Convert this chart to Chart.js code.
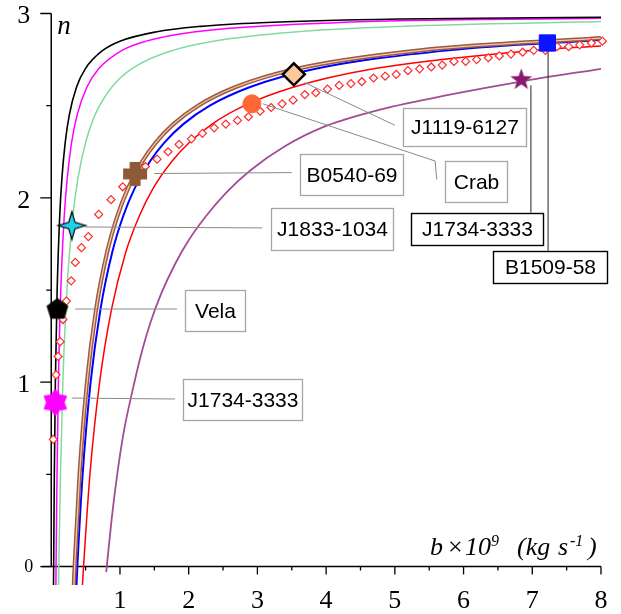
<!DOCTYPE html>
<html>
<head>
<meta charset="utf-8" />
<title>n versus b</title>
<script src="https://cdn.jsdelivr.net/npm/chart.js"></script>
<style>
  body { margin: 0; background: #fff; }
  canvas { display: block; }
</style>
</head>
<body>
<canvas id="myChart" width="621" height="614"></canvas>
<script>
// b in 10^9 kg/s, n = braking index
const blackB = [0.033, 0.035, 0.045, 0.06, 0.086, 0.123, 0.154, 0.203, 0.263, 0.367, 0.495, 0.75, 1.0, 1.52, 2.17, 3.05, 5.1, 8];
const blackN = [-0.1, 0, 0.5, 1.0, 1.5, 1.9, 2.1, 2.3, 2.45, 2.6, 2.7, 2.8, 2.85, 2.9, 2.93, 2.95, 2.97, 2.98];

const magentaB = [0.068, 0.07, 0.084, 0.104, 0.139, 0.189, 0.231, 0.296, 0.377, 0.518, 0.69, 1.03, 1.38, 2.07, 4.13, 8];
const magentaN = [-0.1, 0, 0.5, 1.0, 1.5, 1.9, 2.1, 2.3, 2.45, 2.6, 2.7, 2.8, 2.85, 2.9, 2.95, 2.974];

const greenB = [0.106, 0.11, 0.134, 0.169, 0.228, 0.314, 0.386, 0.5, 0.637, 0.88, 1.17, 1.77, 2.36, 3.54, 5.06, 8];
const greenN = [-0.1, 0, 0.5, 1.0, 1.5, 1.9, 2.1, 2.3, 2.45, 2.6, 2.7, 2.8, 2.85, 2.9, 2.93, 2.956];

const brownB = [0.329, 0.34, 0.412, 0.52, 0.655, 0.81, 0.961, 1.116, 1.329, 1.521, 1.778, 2.137, 2.676, 3.574, 5.371, 8];
const brownN = [-0.1, 0, 0.5, 1.0, 1.4, 1.7, 1.9, 2.05, 2.2, 2.3, 2.4, 2.5, 2.6, 2.7, 2.8, 2.866];

const blueB = [0.368, 0.38, 0.457, 0.573, 0.718, 0.884, 1.046, 1.212, 1.44, 1.646, 1.922, 2.307, 2.885, 3.848, 5.775, 8];
const blueN = [-0.1, 0, 0.5, 1.0, 1.4, 1.7, 1.9, 2.05, 2.2, 2.3, 2.4, 2.5, 2.6, 2.7, 2.8, 2.856];

const redB = [0.454, 0.47, 0.563, 0.704, 0.88, 1.08, 1.28, 1.48, 1.76, 2.01, 2.34, 2.81, 3.52, 4.69, 7.03, 8];
const redN = [-0.1, 0, 0.5, 1.0, 1.4, 1.7, 1.9, 2.05, 2.2, 2.3, 2.4, 2.5, 2.6, 2.7, 2.8, 2.824];

const purpleB = [0.80, 0.88, 0.96, 1.06, 1.18, 1.30, 1.44, 1.60, 1.80, 2.0, 2.25, 2.55, 2.9, 3.4, 4.0, 4.8, 5.8, 6.9, 8];
const purpleN = [-0.03, 0.26, 0.5, 0.74, 0.95, 1.14, 1.32, 1.48, 1.64, 1.77, 1.90, 2.03, 2.15, 2.28, 2.39, 2.48, 2.56, 2.635, 2.70];

const dotB = [0.03, 0.05, 0.07, 0.10, 0.13, 0.17, 0.22, 0.29, 0.35, 0.44, 0.54, 0.69, 0.87, 1.04, 1.21, 1.37, 1.54, 1.70, 1.86, 2.04,
              2.20, 2.37, 2.54, 2.71, 2.87, 3.04, 3.20, 3.36, 3.52, 3.69, 3.85, 4.02, 4.19, 4.36, 4.52, 4.69, 4.86, 5.02, 5.19, 5.36,
              5.53, 5.69, 5.86, 6.03, 6.19, 6.36, 6.52, 6.69, 6.86, 7.02, 7.19, 7.36, 7.53, 7.69, 7.86, 8.02];
const dotN = [0.69, 0.89, 1.04, 1.14, 1.22, 1.34, 1.44, 1.55, 1.65, 1.73, 1.79, 1.91, 1.99, 2.06, 2.12, 2.17, 2.21, 2.25, 2.29, 2.32,
              2.35, 2.38, 2.40, 2.42, 2.44, 2.47, 2.49, 2.51, 2.53, 2.56, 2.57, 2.59, 2.61, 2.62, 2.63, 2.65, 2.66, 2.67, 2.69, 2.70,
              2.71, 2.72, 2.74, 2.74, 2.75, 2.76, 2.77, 2.78, 2.79, 2.80, 2.80, 2.82, 2.82, 2.83, 2.84, 2.85];

// pulsars
const pulsarNames = ['Vela', 'J1734-3333', 'J1833-1034', 'B0540-69', 'Crab', 'J1119-6127', 'B1509-58', 'J1734-3333'];
const pulsarB = [0.09, 0.06, 0.30, 1.22, 2.92, 3.53, 7.22, 6.84];
const pulsarN = [1.40, 0.89, 1.85, 2.13, 2.51, 2.67, 2.84, 2.64];

const xTicks = [1, 2, 3, 4, 5, 6, 7, 8];
const xMinor = [0.5, 1.5, 2.5, 3.5, 4.5, 5.5, 6.5, 7.5];
const yTicks = [0, 1, 2, 3];
const yMinor = [0.5, 1.5, 2.5];

// marker pictures
function pic(w, h, draw) {
  const c = document.createElement('canvas');
  c.width = w; c.height = h;
  const g = c.getContext('2d');
  g.translate(w / 2, h / 2);
  draw(g);
  return c;
}
function starPath(g, k, outer, inner, rot) {
  g.beginPath();
  for (let i = 0; i < k * 2; i++) {
    const r = i % 2 ? inner : outer;
    const a = rot + i * Math.PI / k;
    g.lineTo(r * Math.cos(a), r * Math.sin(a));
  }
  g.closePath();
}
const pentagon = pic(26, 26, g => {
  g.beginPath();
  for (let i = 0; i < 5; i++) {
    const a = -Math.PI / 2 + i * 2 * Math.PI / 5;
    g.lineTo(11.5 * Math.cos(a), 11.5 * Math.sin(a) + 1);
  }
  g.closePath();
  g.fillStyle = '#000';
  g.fill();
});
const sixStar = pic(28, 28, g => {
  starPath(g, 6, 12.5, 8.5, -Math.PI / 2);
  g.fillStyle = '#ff00ff';
  g.lineJoin = 'round';
  g.strokeStyle = '#ff00ff';
  g.lineWidth = 1.5;
  g.fill();
  g.stroke();
});
const fourStar = pic(32, 32, g => {
  starPath(g, 4, 14, 4.5, 0);
  g.fillStyle = '#22d2e8';
  g.fill();
  g.strokeStyle = '#000';
  g.lineWidth = 1.2;
  g.stroke();
});
const plus = pic(28, 28, g => {
  g.fillStyle = '#8d5a35';
  g.fillRect(-12, -5.5, 24, 11);
  g.fillRect(-5.5, -12, 11, 24);
});
const fiveStar = pic(26, 26, g => {
  starPath(g, 5, 11.5, 4.6, -Math.PI / 2);
  g.fillStyle = '#8a1a6c';
  g.fill();
});

const pulsarLook = [
  { pointStyle: pentagon, pointRadius: 11 },
  { pointStyle: sixStar, pointRadius: 11 },
  { pointStyle: fourStar, pointRadius: 12 },
  { pointStyle: plus, pointRadius: 12 },
  { pointStyle: 'circle', pointRadius: 9, pointBackgroundColor: '#ff6633', pointBorderColor: '#ff6633', pointBorderWidth: 1 },
  { pointStyle: 'rectRot', pointRadius: 11, pointBackgroundColor: '#fbc99c', pointBorderColor: '#000', pointBorderWidth: 2.5 },
  { pointStyle: 'rect', pointRadius: 11.5, pointBackgroundColor: '#0a14ff', pointBorderColor: '#0a14ff', pointBorderWidth: 1 },
  { pointStyle: fiveStar, pointRadius: 11 }
];

// callout boxes, in data units: box = [bLeft, bRight, nTop, nBottom]
const callouts = [
  { text: 'J1119-6127', box: [5.12, 6.91, 2.49, 2.28], path: [[3.69, 2.625], [5.00, 2.394]], dark: false },
  { text: 'Crab', box: [5.73, 6.63, 2.20, 1.98], path: [[3.08, 2.51], [5.585, 2.20], [5.61, 2.10]], dark: false },
  { text: 'J1734-3333', box: [5.24, 7.16, 1.92, 1.745], path: [[6.98, 2.61], [6.98, 1.92]], dark: true },
  { text: 'B1509-58', box: [6.43, 8.09, 1.713, 1.536], path: [[7.23, 2.79], [7.23, 1.713]], dark: true },
  { text: 'B0540-69', box: [3.62, 5.12, 2.24, 2.013], path: [[1.50, 2.132], [3.50, 2.137]], dark: false },
  { text: 'J1833-1034', box: [3.20, 4.97, 1.944, 1.718], path: [[0.49, 1.842], [3.07, 1.837]], dark: false },
  { text: 'Vela', box: [1.95, 2.82, 1.50, 1.28], path: [[0.35, 1.397], [1.83, 1.397]], dark: false },
  { text: 'J1734-3333', box: [1.92, 3.65, 1.016, 0.796], path: [[0.30, 0.914], [1.80, 0.909]], dark: false }
];

function pts(bs, ns) {
  return bs.map((b, i) => ({ x: b, y: ns[i] }));
}
function curve(bs, ns, color, width, order) {
  return {
    data: pts(bs, ns),
    showLine: true,
    borderColor: color,
    borderWidth: width,
    pointRadius: 0,
    cubicInterpolationMode: 'monotone',
    order: order
  };
}

const datasets = [];
pulsarNames.forEach((name, i) => {
  datasets.push(Object.assign({ label: name, data: [{ x: pulsarB[i], y: pulsarN[i] }], clip: false, order: 0 }, pulsarLook[i]));
});
datasets.push({
  label: 'dots',
  data: pts(dotB, dotN),
  pointStyle: 'rectRot',
  pointRadius: 4,
  pointBorderWidth: 1.2,
  pointBorderColor: '#ff2a2a',
  pointBackgroundColor: '#fff',
  clip: false,
  order: 1
});
datasets.push(curve(brownB, brownN, '#f3c6a4', 1.3, 2));
datasets.push(curve(brownB, brownN, '#9a5a44', 4.2, 3));
datasets.push(curve(blueB, blueN, '#0000ff', 2, 4));
datasets.push(curve(redB, redN, '#ff0000', 1.5, 5));
datasets.push(curve(blackB, blackN, '#000000', 1.6, 6));
datasets.push(curve(magentaB, magentaN, '#ff00ff', 1.5, 7));
datasets.push(curve(greenB, greenN, '#80dc9e', 1.5, 8));
datasets.push(curve(purpleB, purpleN, '#a24d95', 1.8, 9));

const serif = '"Liberation Serif", "Times New Roman", serif';

const axesPlugin = {
  id: 'axes',
  beforeDatasetsDraw(chart) {
    const { ctx, chartArea, scales: { x, y } } = chart;
    const x0 = x.getPixelForValue(0), y0 = y.getPixelForValue(0);
    ctx.save();
    ctx.strokeStyle = '#000';
    ctx.lineWidth = 1.5;
    ctx.beginPath();
    ctx.moveTo(chartArea.left - 1, y0);
    ctx.lineTo(x.getPixelForValue(8), y0);
    ctx.moveTo(x0, y.getPixelForValue(3));
    ctx.lineTo(x0, y0);
    ctx.stroke();

    ctx.lineWidth = 1.3;
    ctx.beginPath();
    xTicks.forEach(v => { const p = x.getPixelForValue(v); ctx.moveTo(p, y0); ctx.lineTo(p, y0 + 8); });
    xMinor.forEach(v => { const p = x.getPixelForValue(v); ctx.moveTo(p, y0); ctx.lineTo(p, y0 + 4); });
    yTicks.forEach(v => { const p = y.getPixelForValue(v); ctx.moveTo(x0 - 11, p); ctx.lineTo(x0, p); });
    yMinor.forEach(v => { const p = y.getPixelForValue(v); ctx.moveTo(x0 - 5, p); ctx.lineTo(x0, p); });
    ctx.stroke();

    ctx.fillStyle = '#000';
    ctx.font = '26px ' + serif;
    ctx.textAlign = 'center';
    ctx.textBaseline = 'alphabetic';
    xTicks.forEach(v => ctx.fillText(String(v), x.getPixelForValue(v), y0 + 41));
    ctx.textAlign = 'right';
    ctx.textBaseline = 'middle';
    yTicks.forEach(v => {
      if (v === 0) {
        ctx.font = '18px ' + serif;
        ctx.fillText('0', x0 - 18, y0 + 1);
      } else {
        ctx.font = '26px ' + serif;
        ctx.fillText(String(v), x0 - 21, y.getPixelForValue(v) + 3);
      }
    });

    // axis titles
    ctx.textAlign = 'left';
    ctx.textBaseline = 'alphabetic';
    ctx.font = 'italic 27px ' + serif;
    ctx.fillText('n', x0 + 6, y.getPixelForValue(3) + 20);

    const t0 = x.getPixelForValue(8) - 171, base = y0 - 12;
    const pieces = [
      ['b', 0, 26, 0, true], ['\u00d7', 18, 26, 0, false], ['10', 35, 26, 0, true], ['9', 61, 16, 9, true],
      ['(kg', 87, 26, 0, true], ['s', 128, 26, 0, true], ['-1', 140, 16, 9, true], [')', 158, 26, 0, true]
    ];
    pieces.forEach(([s, dx, size, up, it]) => {
      ctx.font = (it ? 'italic ' : '') + size + 'px ' + serif;
      ctx.fillText(s, t0 + dx, base - up);
    });
    ctx.restore();
  }
};

const notesPlugin = {
  id: 'notes',
  afterDraw(chart) {
    const { ctx, scales: { x, y } } = chart;
    ctx.save();
    callouts.forEach(c => {
      ctx.strokeStyle = c.dark ? '#222' : '#8a8a8a';
      ctx.lineWidth = 1;
      ctx.beginPath();
      c.path.forEach(([b, n], i) => {
        const px = x.getPixelForValue(b), py = y.getPixelForValue(n);
        if (i) ctx.lineTo(px, py); else ctx.moveTo(px, py);
      });
      ctx.stroke();

      const l = Math.round(x.getPixelForValue(c.box[0])) + 0.5;
      const r = Math.round(x.getPixelForValue(c.box[1])) + 0.5;
      const t = Math.round(y.getPixelForValue(c.box[2])) + 0.5;
      const b = Math.round(y.getPixelForValue(c.box[3])) + 0.5;
      ctx.fillStyle = '#fff';
      ctx.fillRect(l, t, r - l, b - t);
      ctx.strokeStyle = c.dark ? '#000' : '#a6a6a6';
      ctx.lineWidth = c.dark ? 1.4 : 1.3;
      ctx.strokeRect(l, t, r - l, b - t);
      ctx.fillStyle = '#000';
      ctx.font = '21px "Liberation Sans", Arial, sans-serif';
      ctx.textAlign = 'center';
      ctx.textBaseline = 'middle';
      ctx.fillText(c.text, (l + r) / 2, (t + b) / 2 + 1);
    });
    ctx.restore();
  }
};

const myChart = new Chart(document.getElementById('myChart').getContext('2d'), {
  type: 'scatter',
  data: { datasets: datasets },
  options: {
    responsive: false,
    animation: false,
    events: [],
    layout: { padding: { left: 43, right: 20, top: 7, bottom: 29 } },
    plugins: { legend: { display: false }, tooltip: { enabled: false } },
    scales: {
      x: { type: 'linear', min: -0.12, max: 8, display: false },
      y: { type: 'linear', min: -0.1, max: 3, display: false }
    }
  },
  plugins: [axesPlugin, notesPlugin]
});
</script>
</body>
</html>
